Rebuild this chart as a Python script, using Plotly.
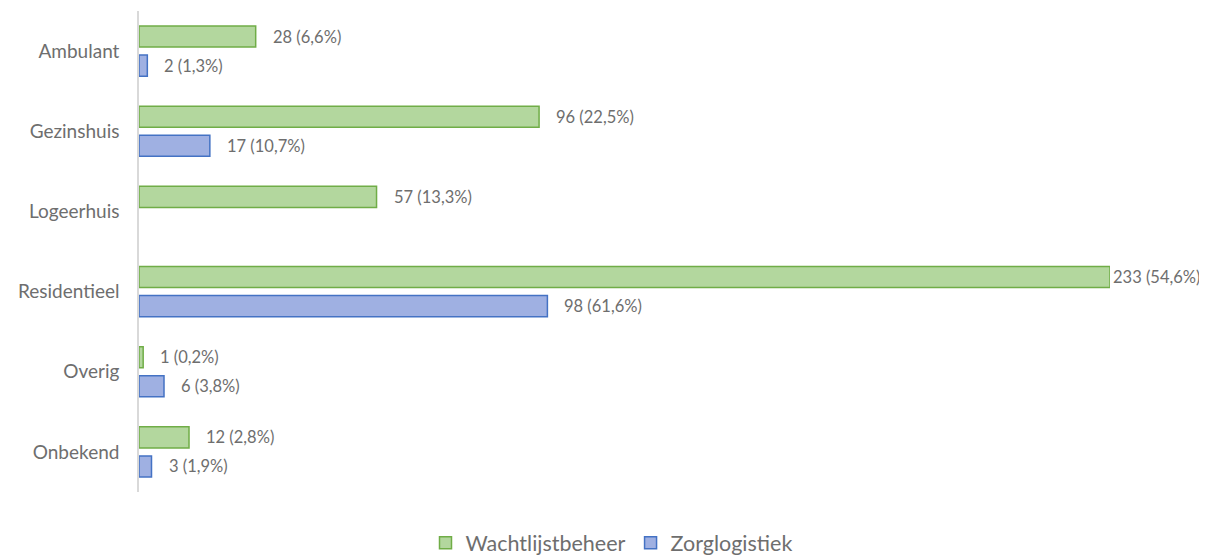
import plotly.graph_objects as go

categories = ["Ambulant", "Gezinshuis", "Logeerhuis", "Residentieel", "Overig", "Onbekend"]
wacht_values = [28, 96, 57, 233, 1, 12]
wacht_pct = [6.6, 22.5, 13.3, 54.6, 0.2, 2.8]
zorg_values = [2, 17, None, 98, 6, 3]
zorg_pct = [1.3, 10.7, None, 61.6, 3.8, 1.9]

FONT = "Lato"
TXT = "#6e6e6e"

def fmt(v, p):
    if v is None:
        return ""
    return f"{v} ({p:.1f}%)".replace(".", ",")

fig = go.Figure()
fig.add_trace(go.Bar(
    y=categories, x=wacht_values, orientation="h", name="Wachtlijstbeheer",
    marker=dict(color="#b3d79e", line=dict(color="#70ad47", width=1.5)),
    hoverinfo="x+y",
))
fig.add_trace(go.Bar(
    y=categories, x=zorg_values, orientation="h", name="Zorglogistiek",
    marker=dict(color="#9fb0e2", line=dict(color="#4472c4", width=1.5)),
    hoverinfo="x+y",
))

xmax = max(wacht_values)
annotations = []
for ti, (vals, pcts) in enumerate([(wacht_values, wacht_pct), (zorg_values, zorg_pct)]):
    for i, (v, p) in enumerate(zip(vals, pcts)):
        if v is None:
            continue
        off = -14.5 if ti == 0 else 14.5
        annotations.append(dict(
            x=v, y=categories[i], xref="x", yref="y", text=fmt(v, p),
            showarrow=False, xanchor="left", yanchor="middle",
            xshift=1 if v == xmax else 15, yshift=-off,
            font=dict(family=FONT, size=16.5, color=TXT),
        ))

fig.update_layout(
    width=1207, height=556,
    margin=dict(l=131, r=105, t=3, b=72, autoexpand=False),
    paper_bgcolor="white", plot_bgcolor="white",
    barmode="group", bargap=0.275, bargroupgap=0.276,
    font=dict(family=FONT, color=TXT),
    showlegend=True,
    legend=dict(orientation="h", xref="container", x=0.5, xanchor="center",
                yref="container", y=0.038, yanchor="middle",
                font=dict(family=FONT, size=21.5, color=TXT), traceorder="normal",
                itemwidth=30),
    annotations=annotations,
)
fig.update_xaxes(range=[0, xmax], visible=False, showgrid=False, zeroline=False,
                 fixedrange=True, automargin=False)
fig.update_yaxes(autorange="reversed", showline=True, linecolor="#d9d9d9", linewidth=1.5,
                 ticks="", showgrid=False, ticklabelstandoff=14, automargin=False,
                 tickfont=dict(family=FONT, size=19, color=TXT))

fig.write_html("out.html")
